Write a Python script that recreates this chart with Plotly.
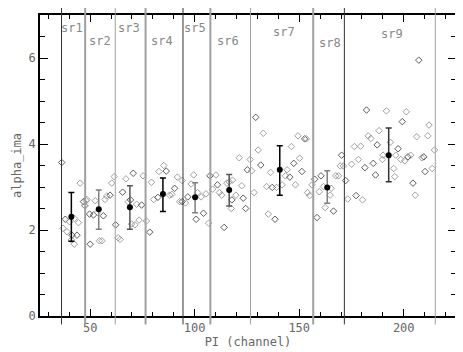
import plotly.graph_objects as go

# scatter points (PI channel, alpha_ima)
pi_vals = [36.4, 37.0, 38.9, 38.1, 40.2, 42.5, 41.3, 41.0, 42.4, 43.7, 44.4, 45.2, 46.8, 48.1, 47.6, 49.7,
           48.4, 47.3,
           51.6, 52.4, 53.5, 50.0, 54.4, 55.6, 56.3, 57.1, 57.9, 59.5, 60.3, 61.5,
           62.2, 63.4, 64.3, 65.5, 67.1, 68.2, 69.3, 69.8, 71.4, 70.6, 72.2, 73.4, 74.6, 75.3,
           76.9, 78.5, 79.3, 80.4, 82.4, 82.9, 85.2, 86.4, 88.0, 89.1, 90.4, 91.7, 92.8, 94.0,
           94.0, 95.6, 96.7, 98.3, 99.5, 100.7, 101.4, 103.1, 104.2, 105.4, 106.7, 107.3,
           108.6, 110.2, 110.9, 111.8, 112.9, 114.1, 115.4, 118.1, 117.8, 119.7, 117.5, 124.4, 116.5,
           122.5, 123.2, 121.3, 126.5, 125.2, 127.3, 128.4,
           129.2, 132.8, 130.4, 131.6, 136.3, 134.4, 137.1, 139.2, 135.2, 138.4, 141.8, 143.4,
           145.5, 144.2, 146.3, 147.4, 148.2, 149.4, 152.6, 153.4, 150.2, 151.3, 154.0, 155.0,
           157.4, 156.1, 159.6, 160.4, 161.6, 162.4, 158.5, 164.8, 165.3, 166.4, 167.5, 168.8,
           170.3, 169.6, 171.1, 172.2, 173.2, 175.1, 177.2, 178.3, 180.3, 181.4, 176.4, 179.4,
           182.2, 183.0, 184.3, 187.3, 188.2, 191.7, 185.4, 189.8, 190.1, 186.5, 193.6, 196.2,
           197.3, 198.6, 200.5, 202.0, 203.3, 201.2, 199.3, 206.2, 208.7, 209.6, 211.5, 212.1,
           207.2, 214.7, 213.6, 210.2, 195.2, 195.7, 204.4, 205.5]
alpha_vals = [3.57, 2.04, 1.96, 2.25, 2.19, 2.27, 1.88, 1.77, 1.67, 1.88, 2.17, 3.09, 2.66, 2.68, 2.56, 2.37,
              2.71, 2.57,
              2.35, 2.68, 2.41, 1.67, 1.75, 1.75, 2.33, 2.71, 2.79, 2.81, 3.09, 3.24,
              2.12, 1.82, 1.78, 2.88, 3.19, 2.66, 2.70, 2.14, 2.12, 3.32, 2.60, 2.23, 2.58, 3.26,
              2.21, 1.95, 3.11, 2.71, 2.76, 3.36, 3.50, 3.37, 2.81, 2.83, 2.97, 3.23, 2.66, 2.66,
              3.15, 2.63, 2.77, 3.07, 3.28, 2.25, 2.87, 2.77, 2.39, 2.84, 2.16, 3.26,
              2.95, 3.28, 3.05, 2.87, 2.81, 2.06, 3.09, 3.16, 2.70, 2.81, 2.50, 2.50, 3.12,
              3.03, 2.74, 3.68, 3.64, 3.40, 3.38, 2.87,
              4.62, 4.25, 3.86, 3.51, 3.34, 3.01, 2.99, 2.99, 2.37, 2.25, 3.05, 3.26,
              3.23, 3.40, 3.94, 3.55, 3.05, 4.19, 4.12, 4.12, 3.67, 3.36, 2.87, 2.80,
              3.18, 3.05, 2.89, 3.26, 3.01, 2.52, 2.29, 2.81, 2.97, 2.44, 3.26, 3.26,
              3.74, 3.49, 3.49, 3.15, 2.72, 3.53, 2.80, 3.64, 2.70, 3.45, 3.94, 3.95,
              4.79, 4.19, 4.13, 3.98, 4.31, 4.77, 3.55, 3.64, 3.74, 3.28, 4.04, 3.74,
              3.89, 3.64, 3.61, 3.70, 3.74, 4.75, 4.52, 4.17, 3.68, 3.70, 4.19, 4.44,
              5.95, 3.86, 3.43, 3.36, 3.43, 3.24, 3.09, 2.81]

# sub-range means with error bars
regions = ['sr1', 'sr2', 'sr3', 'sr4', 'sr5', 'sr6', 'sr7', 'sr8', 'sr9']
mean_pi = [41.0, 54.1, 69.0, 84.8, 100.2, 116.5, 140.7, 163.4, 192.8]
mean_alpha = [2.31, 2.48, 2.53, 2.84, 2.76, 2.93, 3.40, 2.99, 3.74]
err_up = [0.56, 0.45, 0.50, 0.37, 0.34, 0.36, 0.56, 0.39, 0.63]
err_down = [0.57, 0.46, 0.51, 0.41, 0.36, 0.37, 0.59, 0.37, 0.62]
bar_colors = ['black', '#808080', '#555555', 'black', '#808080', '#555555', 'black', '#808080', '#333333']

# region boundaries and label positions
bounds = [36.3, 47.6, 62.0, 76.5, 94.4, 107.5, 126.7, 156.7, 171.6, 215.1]
bound_colors = ['#333333', '#a0a0a0', '#a0a0a0', '#a0a0a0', '#333333', '#a0a0a0', '#a0a0a0', '#a0a0a0', '#333333', '#a0a0a0']
bound_widths = [1, 2, 1, 2, 1, 2, 1, 2, 1, 1]
label_x = [41.5, 54.5, 68.5, 84.5, 100.0, 116.0, 142.5, 164.5, 194.5]
label_y = [6.7, 6.4, 6.7, 6.4, 6.7, 6.4, 6.6, 6.35, 6.55]

fig = go.Figure()

pt_colors = ['#888888' if i % 3 else '#333333' for i in range(len(pi_vals))]
fig.add_trace(go.Scatter(
    x=pi_vals, y=alpha_vals, mode='markers',
    marker=dict(symbol='diamond-open', size=5, color=pt_colors, line=dict(width=0.8)),
    showlegend=False
))

for i in range(len(regions)):
    fig.add_trace(go.Scatter(
        x=[mean_pi[i]], y=[mean_alpha[i]], mode='markers',
        marker=dict(size=6, color='black'),
        error_y=dict(type='data', symmetric=False, array=[err_up[i]], arrayminus=[err_down[i]],
                     color=bar_colors[i], thickness=1.5, width=3),
        showlegend=False
    ))

for b, c, w in zip(bounds, bound_colors, bound_widths):
    fig.add_shape(type='line', xref='x', yref='paper', x0=b, x1=b, y0=-0.028, y1=1.03,
                  line=dict(color=c, width=w), layer='above')

for name, lx, ly in zip(regions, label_x, label_y):
    fig.add_annotation(x=lx, y=ly, text=name, showarrow=False,
                       font=dict(family='DejaVu Sans Mono', size=12, color='#888888'))

axis_font = dict(family='DejaVu Sans Mono', size=12, color='#666666')
fig.update_xaxes(
    range=[26, 225], tickvals=[50, 100, 150, 200], ticks='inside', ticklen=7, tickcolor='black',
    minor=dict(dtick=10, tick0=0, ticks='inside', ticklen=4, tickcolor='black'),
    showline=True, linecolor='black', linewidth=1.5, mirror='ticks', showgrid=False, zeroline=False,
    tickfont=axis_font, title=dict(text='PI (channel)', font=axis_font, standoff=2)
)
fig.update_yaxes(
    range=[0, 7], tickvals=[0, 2, 4, 6], ticks='inside', ticklen=8, tickcolor='black',
    minor=dict(dtick=0.5, tick0=0, ticks='inside', ticklen=5, tickcolor='black'),
    showline=True, linecolor='black', linewidth=1.5, mirror='ticks', showgrid=False, zeroline=False,
    tickfont=axis_font, title=dict(text='alpha_ima', font=axis_font, standoff=4)
)
# the page body adds an 8px offset, so the figure is sized to fit the window
fig.update_layout(
    width=455, height=344,
    margin=dict(l=32, r=5, t=7, b=36),
    plot_bgcolor='white', paper_bgcolor='white'
)

fig.write_html("out.html")
